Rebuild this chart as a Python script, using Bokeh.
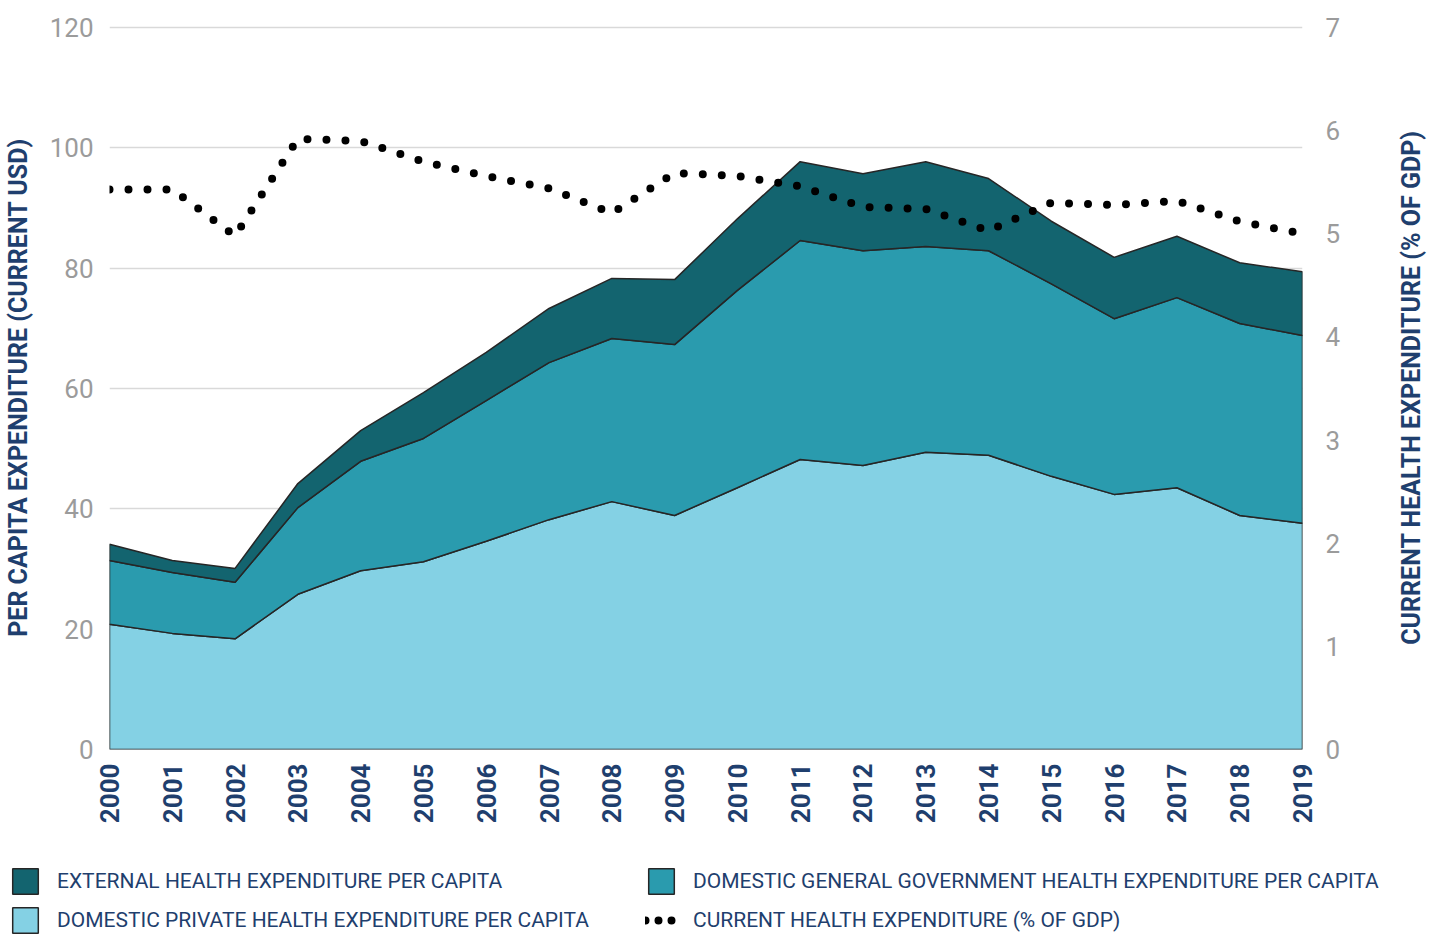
import math
from bokeh.plotting import figure
from bokeh.layouts import row
from bokeh.models import Range1d, LinearAxis, Legend, LegendItem, FixedTicker, Label
from bokeh.embed import file_html
from bokeh.resources import INLINE

years = list(range(2000, 2020))
private = [20.8, 19.3, 18.4, 25.8, 29.7, 31.2, 34.6, 38.2, 41.2, 38.9,
           43.5, 48.2, 47.2, 49.4, 48.9, 45.4, 42.4, 43.5, 38.9, 37.6]
government = [10.6, 10.1, 9.4, 14.4, 18.2, 20.5, 23.4, 26.1, 27.1, 28.4,
              32.8, 36.4, 35.7, 34.2, 34.0, 32.0, 29.2, 31.6, 31.9, 31.2]
external = [2.7, 2.0, 2.3, 4.0, 5.1, 7.6, 8.0, 9.0, 10.0, 10.8,
            11.9, 13.1, 12.8, 14.1, 12.0, 10.4, 10.2, 10.2, 10.1, 10.6]
che_pct_gdp = [5.43, 5.43, 4.98, 5.92, 5.90, 5.70, 5.56, 5.44, 5.20, 5.59,
               5.56, 5.46, 5.26, 5.24, 5.03, 5.30, 5.28, 5.32, 5.12, 5.00]
left_ticks = [0, 20, 40, 60, 80, 100, 120]
right_ticks = [0, 1, 2, 3, 4, 5, 6, 7]

labels = {
    "ext": "EXTERNAL HEALTH EXPENDITURE PER CAPITA",
    "gov": "DOMESTIC GENERAL GOVERNMENT HEALTH EXPENDITURE PER CAPITA",
    "priv": "DOMESTIC PRIVATE HEALTH EXPENDITURE PER CAPITA",
    "che": "CURRENT HEALTH EXPENDITURE (% OF GDP)",
}
left_title = "PER CAPITA EXPENDITURE (CURRENT USD)"
right_title = "CURRENT HEALTH EXPENDITURE (% OF GDP)"

C_EXT = "#13646f"
C_GOV = "#2a9bae"
C_PRIV = "#84d1e4"
NAVY = "#1f3f6e"
GREY = "#9b9b9b"
EDGE = "#262626"
FONT = "Roboto"

# frame a couple of pixels taller than the 0..120 span so the top gridline shows
FH = 724
PAD = FH / 722.0
TOP, BOTTOM = 25, 99

p = figure(output_backend="svg", toolbar_location=None,
           x_range=Range1d(2000, 2019), y_range=Range1d(0, 120 * PAD),
           frame_width=1193, frame_height=FH,
           min_border_left=102, min_border_right=77, min_border_top=TOP,
           min_border_bottom=BOTTOM, outline_line_color=None,
           background_fill_color="white", border_fill_color="white")
p.extra_y_ranges = {"pct": Range1d(0, 7 * PAD)}

# stacked layers
bottom0 = [0.0] * len(years)
top1 = [a + b for a, b in zip(bottom0, private)]
top2 = [a + b for a, b in zip(top1, government)]
top3 = [a + b for a, b in zip(top2, external)]

def layer(bottom, top, color):
    xs = years + years[::-1]
    ys = top + bottom[::-1]
    return p.patch(xs, ys, fill_color=color, line_color=EDGE, line_width=1.5)

layer(bottom0, top1, C_PRIV)
layer(top1, top2, C_GOV)
layer(top2, top3, C_EXT)

p.line(years, che_pct_gdp, y_range_name="pct", line_color="black",
       line_width=8, line_dash="0 19", line_cap="round")

# axes
p.xaxis.ticker = FixedTicker(ticks=years)
p.xaxis.major_label_orientation = math.pi / 2
p.xaxis.major_label_text_font = FONT
p.xaxis.major_label_text_font_size = "26px"
p.xaxis.major_label_text_font_style = "bold"
p.xaxis.major_label_text_color = NAVY
p.xaxis.major_label_standoff = 8
p.xaxis.axis_line_color = None
p.xaxis.major_tick_line_color = None
p.xaxis.minor_tick_line_color = None

p.yaxis.ticker = FixedTicker(ticks=left_ticks)
p.yaxis.major_label_text_font = FONT
p.yaxis.major_label_text_font_size = "26px"
p.yaxis.major_label_text_color = GREY
p.yaxis.major_label_standoff = 10
p.yaxis.axis_line_color = None
p.yaxis.major_tick_line_color = None
p.yaxis.minor_tick_line_color = None
p.yaxis.axis_label = left_title
p.yaxis.axis_label_text_font = FONT
p.yaxis.axis_label_text_font_size = "25px"
p.yaxis.axis_label_text_font_style = "bold"
p.yaxis.axis_label_text_color = NAVY
p.yaxis.axis_label_standoff = 14

ry = LinearAxis(y_range_name="pct", ticker=FixedTicker(ticks=right_ticks))
ry.major_label_text_font = FONT
ry.major_label_text_font_size = "26px"
ry.major_label_text_color = GREY
ry.major_label_standoff = 17
ry.axis_line_color = None
ry.major_tick_line_color = None
ry.minor_tick_line_color = None
p.add_layout(ry, "right")

p.xgrid.grid_line_color = None
p.ygrid.ticker = FixedTicker(ticks=left_ticks)
p.ygrid.grid_line_color = "#d9d9d9"
p.ygrid.grid_line_width = 1.5

# right axis title strip
tf = figure(width=53, height=TOP + FH + BOTTOM, output_backend="svg", toolbar_location=None,
            x_axis_type=None, y_axis_type=None, x_range=Range1d(0, 1), y_range=Range1d(0, 1),
            min_border_left=0, min_border_right=0, min_border_top=TOP,
            min_border_bottom=BOTTOM, outline_line_color=None)
tf.xgrid.visible = False
tf.ygrid.visible = False
tf.add_layout(Label(x=32, x_units="screen", y=0.5, y_units="data", text=right_title,
                    angle=math.pi / 2, text_align="center", text_baseline="middle",
                    text_font=FONT, text_font_size="25px", text_font_style="bold",
                    text_color=NAVY))

# legend strip (legend-only placeholder renderers, off-view)
lf = figure(width=1425, height=88, output_backend="svg", toolbar_location=None,
            x_axis_type=None, y_axis_type=None, x_range=Range1d(0, 1), y_range=Range1d(0, 1),
            min_border=0, outline_line_color=None)
lf.xgrid.visible = False
lf.ygrid.visible = False
off = [-5]
g_ext = lf.patch(off, off, fill_color=C_EXT, line_color=EDGE, line_width=1.5)
g_gov = lf.patch(off, off, fill_color=C_GOV, line_color=EDGE, line_width=1.5)
g_priv = lf.patch(off, off, fill_color=C_PRIV, line_color=EDGE, line_width=1.5)
g_che = lf.line(off, off, line_color="black", line_width=8, line_dash="0 13", line_cap="round")

def make_legend(items, loc):
    return Legend(items=items, location=loc, orientation="vertical",
                  glyph_width=32, glyph_height=32, label_standoff=16,
                  spacing=7, padding=0, margin=0,
                  border_line_color=None, background_fill_alpha=0,
                  label_text_font=FONT, label_text_font_size="21px",
                  label_text_color=NAVY, label_height=32)

lf.add_layout(make_legend([LegendItem(label=labels["ext"], renderers=[g_ext]),
                           LegendItem(label=labels["priv"], renderers=[g_priv])], (9, 0)))
lf.add_layout(make_legend([LegendItem(label=labels["gov"], renderers=[g_gov]),
                           LegendItem(label=labels["che"], renderers=[g_che])], (645, 0)))

open("out.html", "w").write(file_html([row(p, tf), lf], INLINE))
